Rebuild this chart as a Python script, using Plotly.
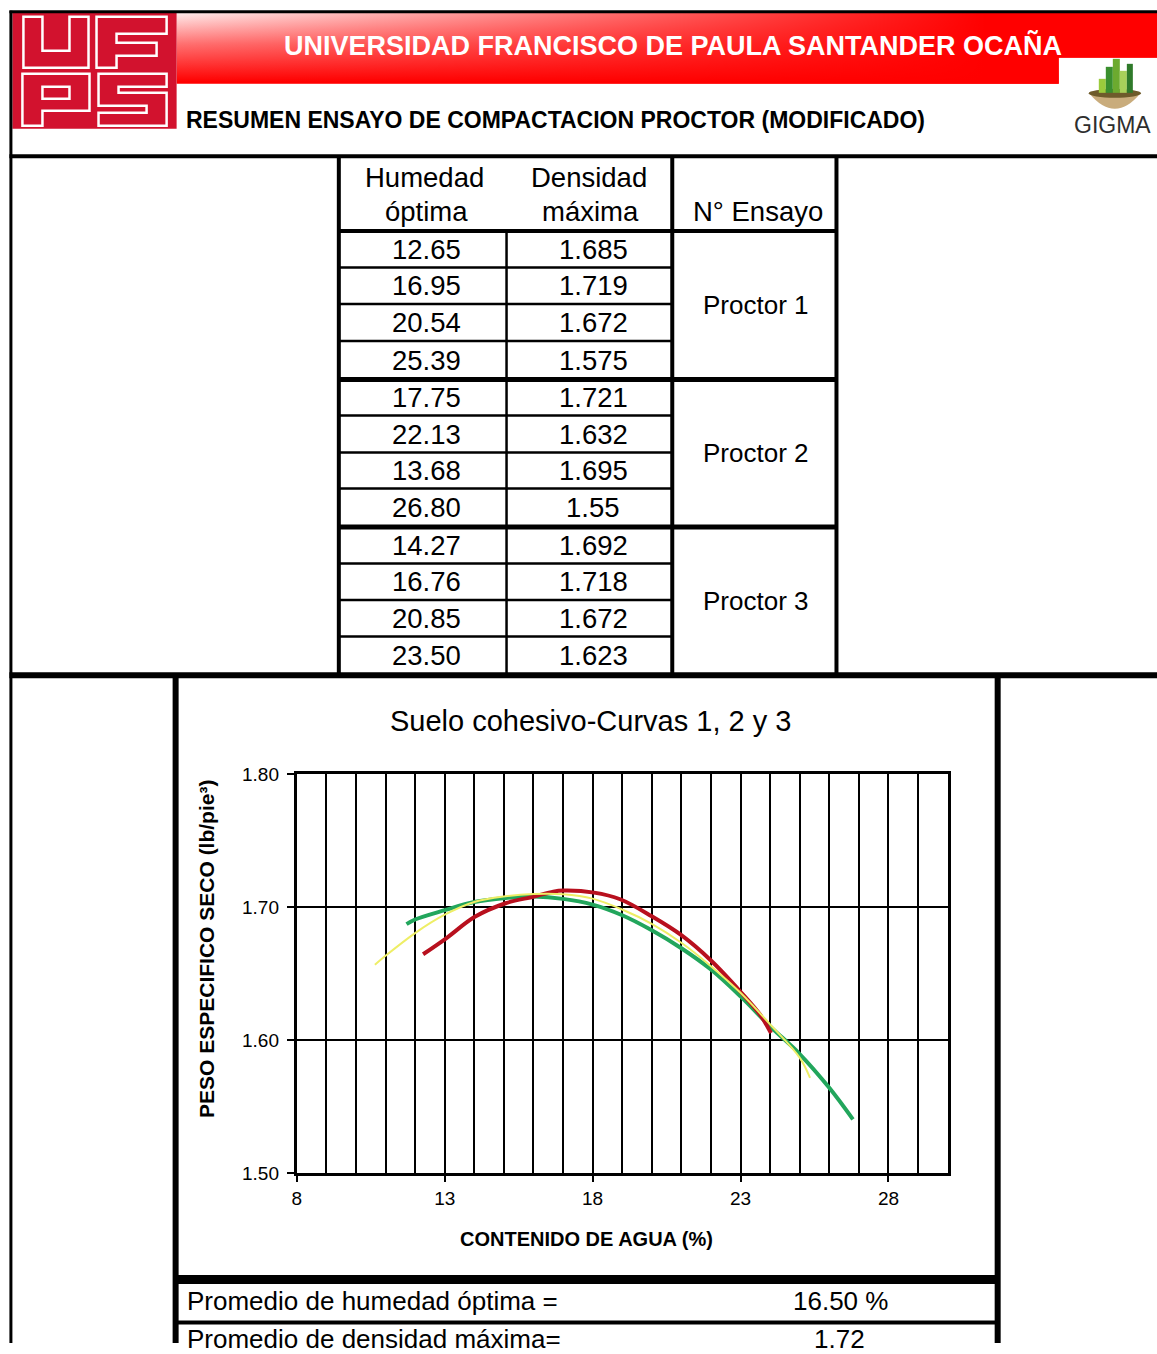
import plotly.graph_objects as go

W, H = 1157, 1354

# ---------------- data ----------------
humedad_optima = [12.65, 16.95, 20.54, 25.39,
                  17.75, 22.13, 13.68, 26.80,
                  14.27, 16.76, 20.85, 23.50]
densidad_maxima = [1.685, 1.719, 1.672, 1.575,
                   1.721, 1.632, 1.695, 1.55,
                   1.692, 1.718, 1.672, 1.623]
ensayos = ["Proctor 1", "Proctor 2", "Proctor 3"]
filas_por_ensayo = 4

# trend curves (x = % water, y = dry unit weight)
curva_p1_x = [10.64, 11.0, 12.0, 13.0, 14.0, 15.06, 16.0, 17.0, 18.0, 19.0,
              20.0, 21.0, 22.0, 23.0, 24.0, 25.0, 25.35]
curva_p1_y = [1.6567, 1.6635, 1.6806, 1.6944, 1.7040, 1.7083, 1.7100, 1.7098,
              1.7065, 1.6983, 1.6875, 1.6733, 1.6557, 1.6357, 1.6120, 1.5870, 1.5717]
curva_p2_x = [11.71, 12.0, 13.0, 14.0, 15.06, 16.0, 17.0, 18.0, 19.0, 20.0,
              21.0, 22.0, 23.0, 24.0, 25.0, 26.0, 26.8]
curva_p2_y = [1.6873, 1.6908, 1.6978, 1.7040, 1.7070, 1.7080, 1.7063, 1.7020,
              1.6940, 1.6827, 1.6692, 1.6532, 1.6330, 1.6105, 1.5897, 1.5643, 1.5406]
curva_p3_x = [12.27, 13.04, 14.02, 15.06, 16.02, 16.67, 17.01, 18.05, 18.93,
              20.0, 21.0, 22.0, 23.0, 23.67, 24.03]
curva_p3_y = [1.6647, 1.6765, 1.6928, 1.7030, 1.7080, 1.7117, 1.7125, 1.7110,
              1.7060, 1.6932, 1.6790, 1.6600, 1.6365, 1.6190, 1.6055]

x_tick_vals = [8, 13, 18, 23, 28]
y_tick_vals = [1.50, 1.60, 1.70, 1.80]
x_range = [8, 30]
y_range = [1.50, 1.80]

promedio_humedad = 16.50
promedio_densidad = 1.72

titulo_banner = "UNIVERSIDAD FRANCISCO DE PAULA SANTANDER OCAÑA"
titulo_resumen = "RESUMEN ENSAYO DE COMPACTACION PROCTOR (MODIFICADO)"
titulo_grafico = "Suelo cohesivo-Curvas 1, 2 y 3"
titulo_x = "CONTENIDO DE AGUA (%)"
titulo_y = "PESO ESPECIFICO SECO (lb/pie³)"

# ---------------- styling ----------------
FONT = "Arial, Liberation Sans, sans-serif"
RED_LOGO = "#D2122E"
BLACK = "#000000"

# sheet coordinate frame (layout positions expressed in sheet pixels)
SX0, SXS = 5.6, 0.9944
SY0, SYS = 9.2, 0.984
sheet_x_range = [SX0, SX0 + SXS * W]
sheet_y_range = [SY0 + SYS * H, SY0]


def fx(sx):
    return (sx - SX0) / SXS / W


def fy(sy):
    return 1 - (sy - SY0) / SYS / H


fig = go.Figure()

# chart traces
fig.add_trace(go.Scatter(x=curva_p2_x, y=curva_p2_y, mode="lines", name=ensayos[1],
                         line=dict(color="#22A65C", width=4, shape="spline", smoothing=1.0),
                         xaxis="x", yaxis="y", hoverinfo="skip"))
fig.add_trace(go.Scatter(x=curva_p3_x, y=curva_p3_y, mode="lines", name=ensayos[2],
                         line=dict(color="#B8101E", width=4, shape="spline", smoothing=1.0),
                         xaxis="x", yaxis="y", hoverinfo="skip"))
fig.add_trace(go.Scatter(x=curva_p1_x, y=curva_p1_y, mode="lines", name=ensayos[0],
                         line=dict(color="#EEEE66", width=2, shape="spline", smoothing=1.0),
                         xaxis="x", yaxis="y", hoverinfo="skip"))

# banner with gradient (sheet axes x2/y2)
bx = [177, 1170, 1170, 1058, 1058, 177, 177]
by = [12, 12, 57, 57, 83, 83, 12]
fig.add_trace(go.Scatter(x=bx, y=by, mode="lines", fill="toself", line=dict(width=0),
                         fillgradient=dict(type="vertical",
                                           colorscale=[[0, "#FFECEC"], [0.45, "#FF7070"], [1, "#FF0000"]],
                                           start=12, stop=80),
                         xaxis="x2", yaxis="y2", hoverinfo="skip", showlegend=False))
fig.add_trace(go.Scatter(x=bx, y=by, mode="lines", fill="toself", line=dict(width=0),
                         fillgradient=dict(type="horizontal",
                                           colorscale=[[0, "rgba(255,0,0,0)"], [1, "rgba(255,0,0,1)"]],
                                           start=177, stop=980),
                         xaxis="x2", yaxis="y2", hoverinfo="skip", showlegend=False))

shapes = []


def hline(y, x0, x1, w, color=BLACK):
    shapes.append(dict(type="line", xref="x2", yref="y2", x0=x0, x1=x1, y0=y, y1=y,
                       line=dict(color=color, width=w)))


def vline(x, y0, y1, w, color=BLACK):
    shapes.append(dict(type="line", xref="x2", yref="y2", x0=x, x1=x, y0=y0, y1=y1,
                       line=dict(color=color, width=w)))


def rect(x0, y0, x1, y1, fill, lc=None, lw=0):
    shapes.append(dict(type="rect", xref="x2", yref="y2", x0=x0, x1=x1, y0=y0, y1=y1,
                       fillcolor=fill, line=dict(color=lc or fill, width=lw)))


def path(d, fill, lc, lw):
    shapes.append(dict(type="path", xref="x2", yref="y2", path=d,
                       fillcolor=fill, line=dict(color=lc, width=lw)))


# UFPS logo
rect(13, 12, 177, 128, RED_LOGO)
path("M24,16 L43,16 L43,50 L70,50 L70,16 L89,16 L89,67 L24,67 Z", RED_LOGO, "white", 2.5)
path("M97,16 L167,16 L167,33 L117,33 L117,42 L157,42 L157,55 L117,55 L117,67 L97,67 Z",
     RED_LOGO, "white", 2.5)
path("M23,73 L90,73 L90,110 L43,110 L43,125 L23,125 Z", RED_LOGO, "white", 2.5)
path("M43,86 L70,86 L70,98 L43,98 Z", RED_LOGO, "white", 2.5)
path("M99,73 L167,73 L167,86 L119,86 L119,92 L167,92 L167,125 L99,125 L99,112 L147,112 "
     "L147,105 L99,105 Z", RED_LOGO, "white", 2.5)

# GIGMA logo
path("M1088,92 Q1114,124 1140,92 Z", "#C9AC7C", "#C9AC7C", 0)
shapes.append(dict(type="circle", xref="x2", yref="y2", x0=1088, x1=1140, y0=88, y1=97,
                   fillcolor="#6E5B2B", line=dict(width=0)))
rect(1098, 78, 1105, 92, "#9BCB3C")
rect(1105, 66, 1112, 92, "#3A8F2E")
rect(1112, 58, 1119, 92, "#6CAA2F")
rect(1119, 70, 1126, 92, "#A8D05A")
rect(1126, 63, 1132, 92, "#2F7A2A")

# page borders
hline(11, 10, 1170, 3)
vline(11.5, 10, 1400, 3)
hline(155.5, 10, 1170, 4)

# table grid
t_left, t_mid, t_div, t_right = 339, 506.5, 672, 836
t_top, t_head = 155, 230
row_edges = [230, 266.5, 303, 340, 378.5, 414.5, 451.5, 487.5, 526, 562.5, 599, 635.5, 674]
vline(t_left, t_top, 674, 4)
vline(t_mid, t_head, 674, 2.5)
vline(t_div, t_top, 674, 4)
vline(t_right, t_top, 674, 4)
hline(t_head, t_left, t_right, 4)
for i, y in enumerate(row_edges[1:-1], start=1):
    if i % filas_por_ensayo == 0:
        hline(y, t_left, t_right, 5)
    else:
        hline(y, t_left, t_div, 2.5)
hline(674, 10, 1170, 6)

# chart frame and summary rows
vline(176, 674, 1400, 6)
vline(997, 674, 1400, 6)
hline(1278, 176, 997, 9)
hline(1321, 176, 997, 4)

annotations = []


def text(x, y, s, size, color=BLACK, bold=False, xanchor="center", angle=0):
    annotations.append(dict(xref="x2", yref="y2", x=x, y=y, text=(f"<b>{s}</b>" if bold else s),
                            showarrow=False, xanchor=xanchor, yanchor="middle",
                            textangle=angle,
                            font=dict(family=FONT, size=size, color=color)))


text(673, 45, titulo_banner, 27, color="white", bold=True)
text(184, 119, titulo_resumen, 23, bold=True, xanchor="left")
text(1112, 124, "GIGMA", 23, color="#2E2E2E")

# table header
text(425, 177, "Humedad", 27.5)
text(427, 211, "óptima", 27.5)
text(589, 177, "Densidad", 27.5)
text(590, 211, "máxima", 27.5)
text(758, 211, "N° Ensayo", 27.5)

for i, (h, d) in enumerate(zip(humedad_optima, densidad_maxima)):
    yc = (row_edges[i] + row_edges[i + 1]) / 2
    text(427, yc, f"{h:.2f}", 27.5)
    text(593, yc, format(d, "g"), 27.5)

for g, name in enumerate(ensayos):
    yc = (row_edges[g * filas_por_ensayo] + row_edges[(g + 1) * filas_por_ensayo]) / 2
    text(756, yc, name, 26)

# chart texts
text(590, 720, titulo_grafico, 29)
text(586, 1238, titulo_x, 20, bold=True)
text(207, 948, titulo_y, 21, bold=True, angle=-90)

# summary rows
text(185, 1300, "Promedio de humedad óptima =", 26, xanchor="left")
text(840, 1300, f"{promedio_humedad:.2f} %", 26)
text(185, 1338, "Promedio de densidad máxima=", 26, xanchor="left")
text(839, 1338, f"{promedio_densidad:.2f}", 26)

fig.update_layout(
    width=W, height=H,
    margin=dict(l=0, r=0, t=0, b=0),
    paper_bgcolor="white",
    plot_bgcolor="rgba(0,0,0,0)",
    showlegend=False,
    hovermode=False,
    shapes=shapes,
    annotations=annotations,
    xaxis=dict(domain=[fx(297), fx(947)], range=x_range, anchor="y",
               tickmode="array", tickvals=x_tick_vals,
               showgrid=True, gridcolor=BLACK, gridwidth=2,
               minor=dict(tickmode="linear", tick0=8, dtick=1, showgrid=True,
                          gridcolor=BLACK, gridwidth=2, ticks=""),
               ticks="outside", ticklen=6, tickwidth=2, tickcolor=BLACK,
               showline=True, linewidth=3, linecolor=BLACK, mirror=True,
               zeroline=False, ticklabelstandoff=0,
               tickfont=dict(family=FONT, size=19, color=BLACK)),
    yaxis=dict(domain=[fy(1172), fy(773)], range=y_range, anchor="x",
               tickmode="array", tickvals=y_tick_vals, tickformat=".2f",
               showgrid=True, gridcolor=BLACK, gridwidth=2,
               ticks="outside", ticklen=7, tickwidth=2, tickcolor=BLACK,
               showline=True, linewidth=3, linecolor=BLACK, mirror=True,
               zeroline=False, ticklabelstandoff=4,
               tickfont=dict(family=FONT, size=19, color=BLACK)),
    xaxis2=dict(domain=[0, 1], range=sheet_x_range, anchor="y2", visible=False, fixedrange=True),
    yaxis2=dict(domain=[0, 1], range=sheet_y_range, anchor="x2", visible=False, fixedrange=True),
)

fig.write_html("out.html", config={"displayModeBar": False},
               post_script="document.body.style.margin='0';document.body.style.overflow='hidden';")
